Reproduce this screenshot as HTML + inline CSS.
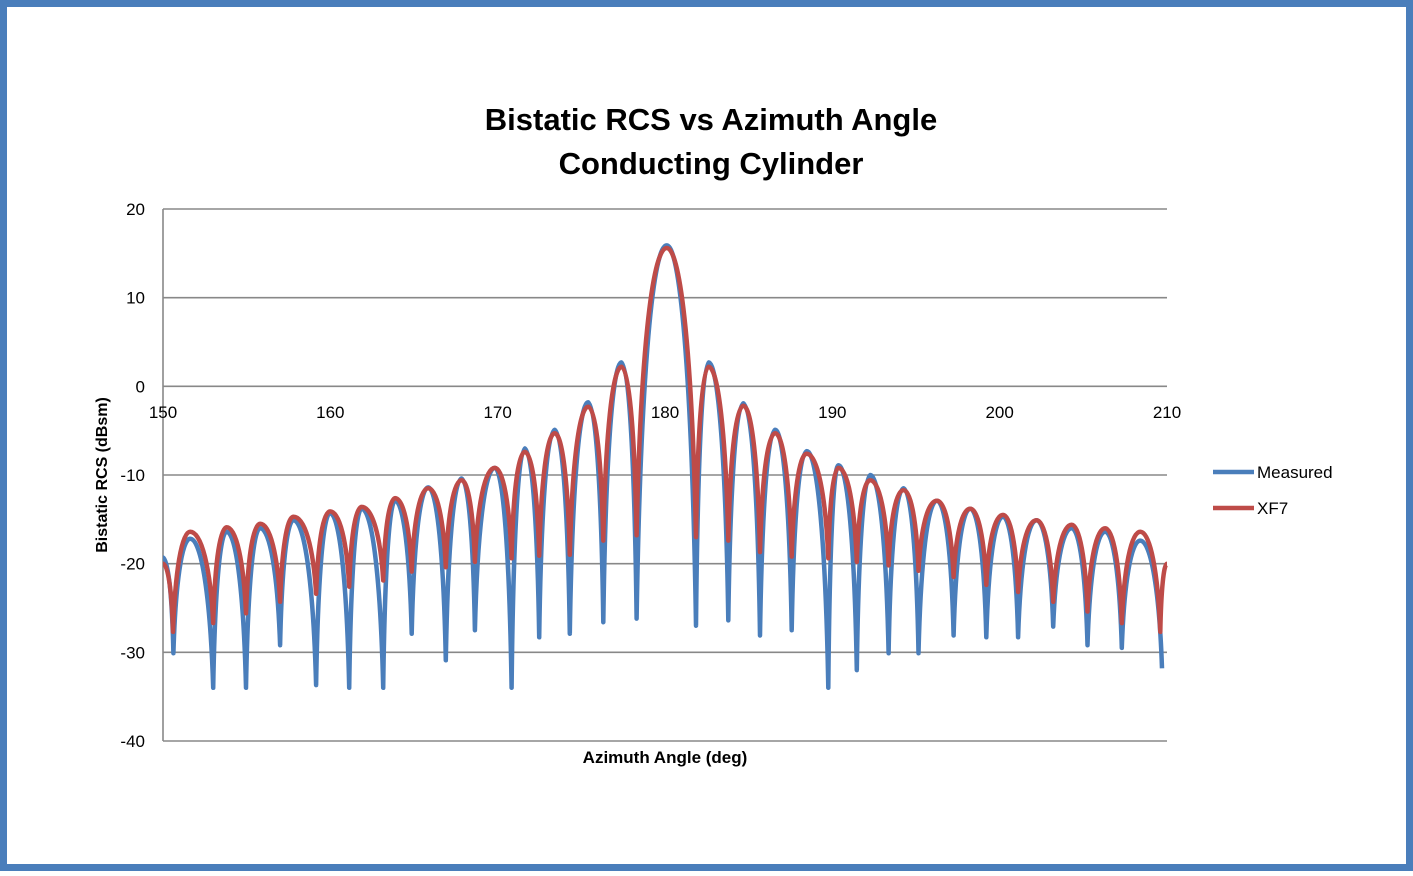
<!DOCTYPE html>
<html><head><meta charset="utf-8"><style>
html,body{margin:0;padding:0;background:#fff}
body{width:1413px;height:871px;overflow:hidden;font-family:"Liberation Sans",sans-serif}
</style></head><body>
<svg width="1413" height="871" xmlns="http://www.w3.org/2000/svg">
<rect x="3.5" y="3.5" width="1406" height="864" fill="#fff" stroke="#4a7ebb" stroke-width="7"/>
<text x="711" y="130" font-size="31" font-weight="bold" text-anchor="middle" font-family="Liberation Sans, sans-serif">Bistatic RCS vs Azimuth Angle</text>
<text x="711" y="174" font-size="31" font-weight="bold" text-anchor="middle" font-family="Liberation Sans, sans-serif">Conducting Cylinder</text>
<g id="grid"></g>
<g id="yticks"></g>
<g id="xticks"></g>
<text x="0" y="0" transform="translate(107,475) rotate(-90)" font-size="16" font-weight="bold" text-anchor="middle">Bistatic RCS (dBsm)</text>
<text x="665" y="763" font-size="17" font-weight="bold" text-anchor="middle">Azimuth Angle (deg)</text>
<path id="measured" fill="none" stroke="#4a7ebb" stroke-width="4.5" stroke-linejoin="round"/>
<path id="xf7" fill="none" stroke="#be4b48" stroke-width="4.5" stroke-linejoin="round"/>
<g>
<line x1="1213" y1="472" x2="1254" y2="472" stroke="#4a7ebb" stroke-width="4.5"/>
<text x="1257" y="478" font-size="17">Measured</text>
<line x1="1213" y1="508" x2="1254" y2="508" stroke="#be4b48" stroke-width="4.5"/>
<text x="1257" y="514" font-size="17">XF7</text>
</g>
</svg>
<script>
const yTicks=[20,10,0,-10,-20,-30,-40];
const xTicks=[150,160,170,180,190,200,210];
const measuredAngles=[150,150.62,151.62,153.0,153.8,154.96,155.8,157.0,157.8,159.15,159.98,161.13,161.87,163.16,163.87,164.86,165.85,166.9,167.84,168.64,169.83,170.83,171.62,172.48,173.41,174.31,175.41,176.31,177.4,178.3,180.1,181.85,182.6,183.78,184.68,185.68,186.58,187.57,188.47,189.76,190.36,191.46,192.26,193.36,194.25,195.15,196.25,197.25,198.24,199.2,200.2,201.1,202.2,203.2,204.3,205.25,206.3,207.3,208.4,209.7];
const measuredValues=[-19.3,-30.1,-17.2,-34,-16.4,-34,-16,-29.2,-15.1,-33.7,-14.3,-34,-13.8,-34,-12.9,-27.9,-11.4,-30.9,-10.4,-27.5,-9.2,-34,-7.0,-28.3,-4.9,-27.9,-1.8,-26.6,2.7,-26.2,15.9,-27,2.7,-26.4,-1.9,-28.1,-4.9,-27.5,-7.3,-34,-8.9,-32,-10,-30.1,-11.5,-30.1,-12.9,-28.1,-13.8,-28.3,-14.7,-28.3,-15.1,-27.1,-16,-29.2,-16.4,-29.5,-17.4,-31.8];
const xf7Angles=[150,150.6,151.62,153.0,153.8,154.96,155.8,157.0,157.8,159.15,159.98,161.13,161.87,163.16,163.87,164.86,165.85,166.9,167.84,168.64,169.83,170.83,171.62,172.48,173.41,174.31,175.41,176.31,177.4,178.3,180.1,181.85,182.6,183.78,184.68,185.68,186.58,187.57,188.47,189.76,190.36,191.46,192.26,193.36,194.25,195.15,196.25,197.25,198.24,199.2,200.2,201.1,202.2,203.2,204.3,205.25,206.3,207.3,208.4,209.6,210];
const xf7Values=[-20,-27.7,-16.4,-26.7,-15.9,-25.6,-15.5,-24.3,-14.7,-23.4,-14.1,-22.6,-13.6,-21.9,-12.6,-20.9,-11.5,-20.4,-10.6,-19.8,-9.2,-19.4,-7.4,-19.1,-5.3,-19,-2.3,-17.4,2.2,-16.8,15.6,-17,2.2,-17.4,-2.2,-18.7,-5.3,-19.2,-7.6,-19.4,-9.2,-19.8,-10.6,-20.2,-11.7,-20.8,-12.9,-21.5,-13.8,-22.4,-14.5,-23.2,-15.1,-24.3,-15.6,-25.4,-16.0,-26.7,-16.4,-27.7,-20];
const X0=163,X1=1167,Y0=209,Y1=741;
const sx=a=>X0+(a-150)*(X1-X0)/60;
const sy=v=>Y0+(20-v)*(Y1-Y0)/60;
const NS="http://www.w3.org/2000/svg";
const grid=document.getElementById('grid');
yTicks.forEach(v=>{
  const l=document.createElementNS(NS,'line');
  
  
  l.setAttribute('x1',X0);l.setAttribute('x2',X1);l.setAttribute('y1',sy(v));l.setAttribute('y2',sy(v));
  l.setAttribute('stroke','#888');l.setAttribute('stroke-width','1.6');
  grid.appendChild(l);
  const t=document.createElementNS(NS,'text');
  
  
  t.setAttribute('x',145);t.setAttribute('y',sy(v)+6);t.setAttribute('text-anchor','end');t.setAttribute('font-size','17');
  t.textContent=v;document.getElementById('yticks').appendChild(t);
});
const ax=document.createElementNS(NS,'line');


ax.setAttribute('x1',X0);ax.setAttribute('x2',X0);ax.setAttribute('y1',Y0);ax.setAttribute('y2',Y1);
ax.setAttribute('stroke','#888');ax.setAttribute('stroke-width','1.6');grid.appendChild(ax);
xTicks.forEach(a=>{
  const t=document.createElementNS(NS,'text');
  
  
  t.setAttribute('x',sx(a));t.setAttribute('y',418);t.setAttribute('text-anchor','middle');t.setAttribute('font-size','17');
  t.textContent=a;document.getElementById('xticks').appendChild(t);
});
function build(angles,vals){
  const P=angles.map((a,i)=>[sx(a),sy(vals[i])]);
  let d='M'+P[0][0].toFixed(1)+','+P[0][1].toFixed(1);
  for(let i=1;i<P.length;i++){
    const [x0,y0]=P[i-1],[x1,y1]=P[i];const dx=x1-x0,dy=y1-y0;
    let c1,c2;
    if(y1<y0){ // going up to peak
      c1=[x0+0.12*dx,y0+0.6*dy];c2=[x1-0.5*dx,y1];
    }else{ // going down to null
      c1=[x0+0.5*dx,y0];c2=[x1-0.12*dx,y1-0.6*dy];
    }
    d+=' C'+c1.map(n=>n.toFixed(1)).join(',')+' '+c2.map(n=>n.toFixed(1)).join(',')+' '+x1.toFixed(1)+','+y1.toFixed(1);
  }
  return d;
}
document.getElementById('measured').setAttribute('d',build(measuredAngles,measuredValues));
document.getElementById('xf7').setAttribute('d',build(xf7Angles,xf7Values));
</script>
</body></html>
